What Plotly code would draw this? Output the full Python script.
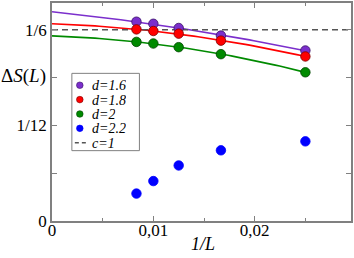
import numpy as np
import plotly.graph_objects as go

inv_L = [1/120, 1/100, 1/80, 1/60, 1/40]
labels = ["d=1.6", "d=1.8", "d=2", "d=2.2"]
d16 = [0.1737, 0.1719, 0.1682, 0.1616, 0.1486]
d18 = [0.1670, 0.1656, 0.1633, 0.1572, 0.1434]
d20 = [0.1561, 0.1547, 0.1515, 0.1454, 0.1296]
d22 = [0.0239, 0.0348, 0.0484, 0.0616, 0.0694]
intercepts = [0.1823, 0.1719, 0.1613]  # fit value at 1/L = 0
colors = ["#7b2fcc", "#ff0000", "#008a00", "#0000ff"]
edge_colors = ["#3a1466", "#7a0000", "#004400", "#0000ff"]
c1_label = "c=1"
c1_value = 1/6
ytick_vals = [0, 1/12, 1/6]
ytick_text = ["0", "1/12", "1/6"]
xtick_vals = [0, 0.01, 0.02]
xtick_text = ["0", "0,01", "0,02"]

X_MAX, Y_MAX = 0.0295, 0.19
ML, MR, MT, MB = 52, 1, 1, 37
W, H = 354, 258
PW, PH = W - ML - MR, H - MT - MB

def px2paper(px, py):
    return (px - ML) / PW, (H - MB - py) / PH

fig = go.Figure()
series = [d16, d18, d20, d22]
xfit = np.linspace(0, 0.025, 60)
for ys, b0, col in zip(series[:3], intercepts, colors[:3]):
    xs = [0] + inv_L
    yy = [b0] + ys
    w = [3] + [1] * len(inv_L)
    c = np.polyfit(xs, yy, 2, w=w)
    fig.add_trace(go.Scatter(x=xfit, y=np.polyval(c, xfit), mode="lines",
                             line=dict(color=col, width=1.6), showlegend=False,
                             hoverinfo="skip"))
fig.add_trace(go.Scatter(x=[0, X_MAX], y=[c1_value, c1_value], mode="lines",
                         line=dict(color="#555555", width=1.6, dash="6px,4px"),
                         showlegend=False))
for ys, name, col, ec in zip(series, labels, colors, edge_colors):
    fig.add_trace(go.Scatter(x=inv_L, y=ys, mode="markers", name=name, showlegend=False,
                             marker=dict(color=col, size=9.5, line=dict(color=ec, width=0.8))))

# custom legend
shapes = []
annotations = []
bx0, by0 = px2paper(72, 72)
bx1, by1 = px2paper(140, 150)
shapes.append(dict(type="rect", xref="paper", yref="paper", x0=bx0, y0=by1, x1=bx1, y1=by0,
                   line=dict(color="#808080", width=1), fillcolor="white", layer="above"))
entry_y = [84, 98.5, 113, 127.5, 142]
leg_font = dict(family="Liberation Serif", size=14, color="black")
for i, (name, col, ec) in enumerate(zip(labels, colors, edge_colors)):
    mx, my = px2paper(80, entry_y[i])
    shapes.append(dict(type="circle", xref="paper", yref="paper", xsizemode="pixel",
                       ysizemode="pixel", xanchor=mx, yanchor=my, x0=-3.3, x1=3.3,
                       y0=-3.3, y1=3.3, fillcolor=col, line=dict(color=ec, width=0.6),
                       layer="above"))
for i, name in enumerate(labels + [c1_label]):
    tx, ty = px2paper(91, entry_y[i])
    annotations.append(dict(text="<i>" + name + "</i>", x=tx, y=ty, xref="paper", yref="paper",
                            xanchor="left", yanchor="middle", showarrow=False, font=leg_font,
                            height=14, borderpad=0))
lx0, ly = px2paper(75, entry_y[4])
lx1, _ = px2paper(87, entry_y[4])
shapes.append(dict(type="line", xref="paper", yref="paper", x0=lx0, x1=lx1, y0=ly, y1=ly,
                   line=dict(color="#555555", width=1.5, dash="4px,3px"), layer="above"))

axis_common = dict(showline=True, linecolor="#808080", linewidth=1.5, mirror="ticks",
                   ticks="inside", ticklen=5, tickcolor="#808080", showgrid=False,
                   zeroline=False, tickfont=dict(family="Liberation Serif", size=17, color="black"))
fig.update_xaxes(range=[0, X_MAX], tickvals=xtick_vals, ticktext=xtick_text,
                 ticklabelstandoff=-7,
                 minor=dict(tickvals=[0.005, 0.015, 0.025], ticks="inside", ticklen=3,
                            tickcolor="#808080"), **axis_common)
fig.update_yaxes(range=[0, Y_MAX], tickvals=ytick_vals, ticktext=ytick_text,
                 minor=dict(tickvals=[1/24, 3/24], ticks="inside", ticklen=5,
                            tickcolor="#808080"), **axis_common)
ax_, ay_ = px2paper(0, 75)
annotations.append(dict(text="Δ<i>S</i>(<i>L</i>)", x=0, y=ay_, xref="paper", yref="paper",
                        xanchor="right", yanchor="middle", xshift=-4, showarrow=False,
                        font=dict(family="Liberation Serif", size=19, color="black")))
lx, lyy = px2paper(204, 244)
annotations.append(dict(text="<i>1/L</i>", x=lx, y=lyy, xref="paper", yref="paper",
                        xanchor="center", yanchor="middle", showarrow=False,
                        font=dict(family="Liberation Serif", size=18, color="black")))
fig.update_layout(
    width=W, height=H, margin=dict(l=ML, r=MR, t=MT, b=MB),
    plot_bgcolor="white", paper_bgcolor="white", showlegend=False,
    shapes=shapes, annotations=annotations,
)
fig.write_html("out.html", config={"displayModeBar": False},
               post_script="document.body.style.margin='0px';")
